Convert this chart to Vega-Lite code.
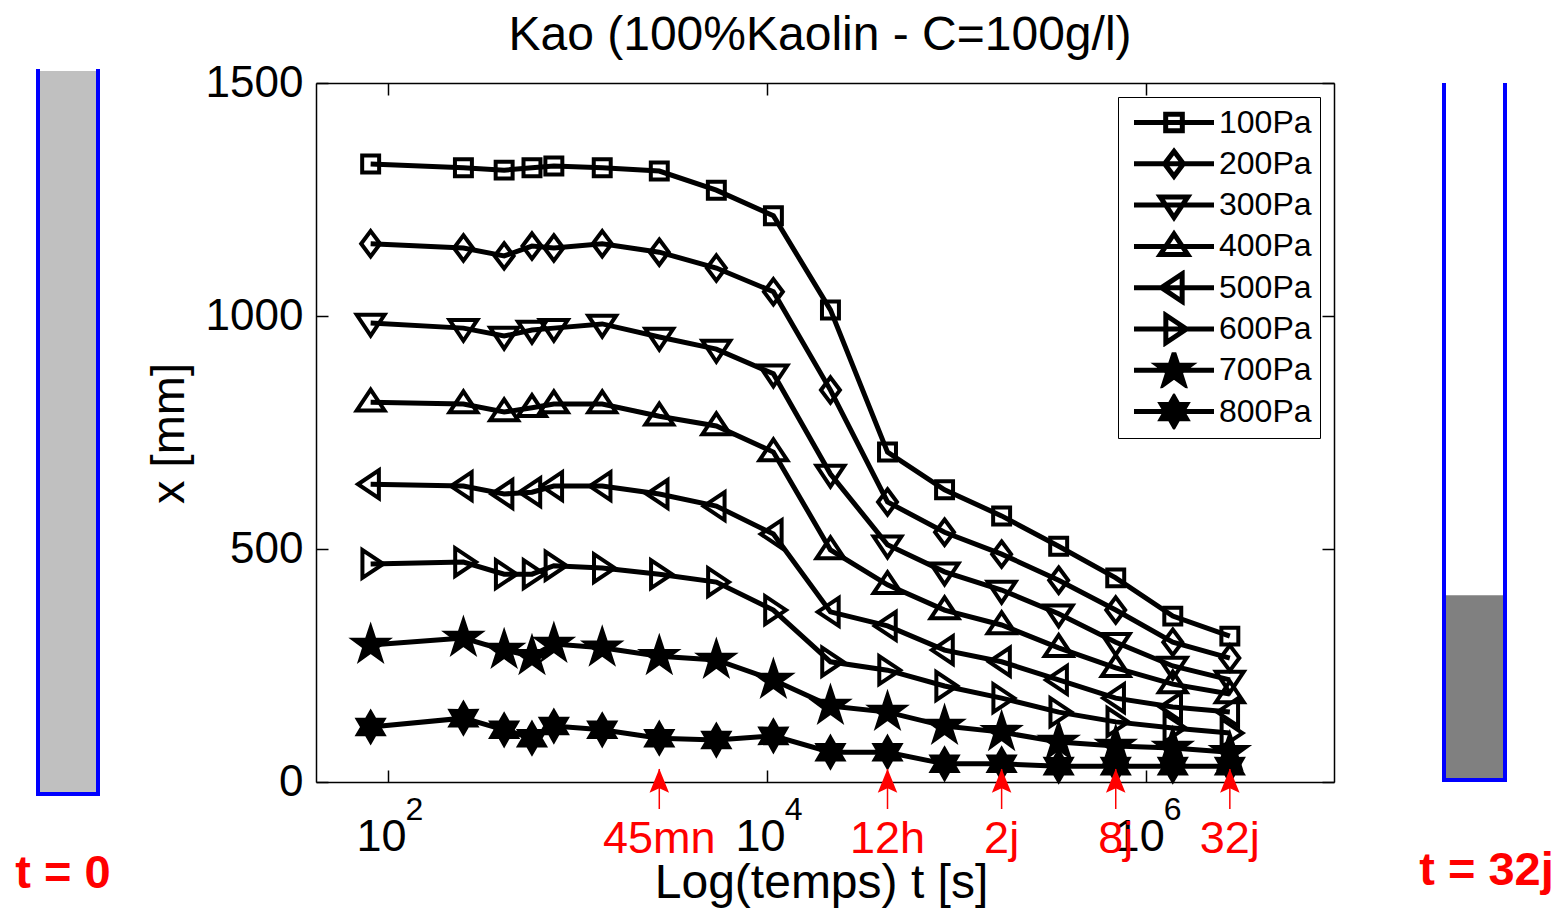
{
  "$schema": "https://vega.github.io/schema/vega-lite/v6.json",
  "background": "white",
  "padding": {"left": 15, "top": 12, "right": 5, "bottom": 5},
  "config": {"view": {"stroke": null}, "font": "Liberation Sans"},
  "spacing": 110,
  "bounds": "flush",
  "center": true,
  "hconcat": [
    {
      "width": 168,
      "height": 723,
      "data": {"values": [{"tube": "t = 0", "level": 1}]},
      "layer": [
        {"mark": {"type": "rect", "color": "#c0c0c0"},
         "encoding": {
           "x": {"datum": 0, "type": "quantitative", "scale": {"domain": [0, 2.8]}, "axis": null},
           "x2": {"datum": 1},
           "y": {"field": "level", "type": "quantitative", "scale": {"domain": [0, 1]}, "axis": null},
           "y2": {"datum": 0}}},
        {"mark": {"type": "rule", "color": "#0000ff", "strokeWidth": 4, "strokeCap": "square"},
         "encoding": {"x": {"datum": 0, "type": "quantitative", "axis": null}, "y": {"datum": 0, "type": "quantitative", "axis": null}, "y2": {"datum": 1}}},
        {"mark": {"type": "rule", "color": "#0000ff", "strokeWidth": 4, "strokeCap": "square"},
         "encoding": {"x": {"datum": 1, "type": "quantitative", "axis": null}, "y": {"datum": 0, "type": "quantitative", "axis": null}, "y2": {"datum": 1}}},
        {"mark": {"type": "rule", "color": "#0000ff", "strokeWidth": 4, "strokeCap": "square"},
         "encoding": {"x": {"datum": 0, "type": "quantitative", "axis": null}, "x2": {"datum": 1}, "y": {"datum": 0, "type": "quantitative", "axis": null}}},
        {"mark": {"type": "text", "color": "#ff0000", "font": "Liberation Sans", "fontSize": 47, "fontWeight": "bold", "baseline": "alphabetic", "align": "center", "dy": 94, "dx": -5},
         "encoding": {"x": {"datum": 0.5, "type": "quantitative", "axis": null}, "y": {"datum": 0, "type": "quantitative", "axis": null}, "text": {"field": "tube", "type": "nominal"}}}
      ]
    },
    {
      "width": 1018,
      "height": 699,
      "title": {"text": "Kao (100%Kaolin - C=100g/l)", "font": "Liberation Sans", "fontSize": 48, "fontWeight": "normal", "color": "black", "baseline": "alphabetic", "offset": -37, "anchor": "middle", "frame": "group", "dx": -5},
      "data": {"values": [
        {"series":"100Pa","t":81,"x_mm":1326},{"series":"100Pa","t":250,"x_mm":1318},{"series":"100Pa","t":410,"x_mm":1313},{"series":"100Pa","t":575,"x_mm":1318},{"series":"100Pa","t":750,"x_mm":1322},{"series":"100Pa","t":1350,"x_mm":1318},{"series":"100Pa","t":2700,"x_mm":1311},{"series":"100Pa","t":5400,"x_mm":1270},{"series":"100Pa","t":10800,"x_mm":1215},{"series":"100Pa","t":21600,"x_mm":1013},{"series":"100Pa","t":43200,"x_mm":708},{"series":"100Pa","t":86400,"x_mm":627},{"series":"100Pa","t":172800,"x_mm":571},{"series":"100Pa","t":345600,"x_mm":506},{"series":"100Pa","t":691200,"x_mm":438},{"series":"100Pa","t":1382400,"x_mm":356},{"series":"100Pa","t":2764800,"x_mm":313},
        {"series":"200Pa","t":81,"x_mm":1155},{"series":"200Pa","t":250,"x_mm":1146},{"series":"200Pa","t":410,"x_mm":1129},{"series":"200Pa","t":575,"x_mm":1150},{"series":"200Pa","t":750,"x_mm":1146},{"series":"200Pa","t":1350,"x_mm":1155},{"series":"200Pa","t":2700,"x_mm":1137},{"series":"200Pa","t":5400,"x_mm":1103},{"series":"200Pa","t":10800,"x_mm":1052},{"series":"200Pa","t":21600,"x_mm":841},{"series":"200Pa","t":43200,"x_mm":601},{"series":"200Pa","t":86400,"x_mm":536},{"series":"200Pa","t":172800,"x_mm":489},{"series":"200Pa","t":345600,"x_mm":433},{"series":"200Pa","t":691200,"x_mm":369},{"series":"200Pa","t":1382400,"x_mm":300},{"series":"200Pa","t":2764800,"x_mm":266},
        {"series":"300Pa","t":81,"x_mm":985},{"series":"300Pa","t":250,"x_mm":974},{"series":"300Pa","t":410,"x_mm":957},{"series":"300Pa","t":575,"x_mm":970},{"series":"300Pa","t":750,"x_mm":974},{"series":"300Pa","t":1350,"x_mm":983},{"series":"300Pa","t":2700,"x_mm":955},{"series":"300Pa","t":5400,"x_mm":929},{"series":"300Pa","t":10800,"x_mm":876},{"series":"300Pa","t":21600,"x_mm":661},{"series":"300Pa","t":43200,"x_mm":509},{"series":"300Pa","t":86400,"x_mm":451},{"series":"300Pa","t":172800,"x_mm":412},{"series":"300Pa","t":345600,"x_mm":361},{"series":"300Pa","t":691200,"x_mm":300},{"series":"300Pa","t":1382400,"x_mm":249},{"series":"300Pa","t":2764800,"x_mm":219},
        {"series":"400Pa","t":81,"x_mm":815},{"series":"400Pa","t":250,"x_mm":811},{"series":"400Pa","t":410,"x_mm":794},{"series":"400Pa","t":575,"x_mm":803},{"series":"400Pa","t":750,"x_mm":811},{"series":"400Pa","t":1350,"x_mm":811},{"series":"400Pa","t":2700,"x_mm":785},{"series":"400Pa","t":5400,"x_mm":764},{"series":"400Pa","t":10800,"x_mm":708},{"series":"400Pa","t":21600,"x_mm":498},{"series":"400Pa","t":43200,"x_mm":423},{"series":"400Pa","t":86400,"x_mm":369},{"series":"400Pa","t":172800,"x_mm":337},{"series":"400Pa","t":345600,"x_mm":288},{"series":"400Pa","t":691200,"x_mm":245},{"series":"400Pa","t":1382400,"x_mm":210},{"series":"400Pa","t":2764800,"x_mm":189},
        {"series":"500Pa","t":81,"x_mm":639},{"series":"500Pa","t":250,"x_mm":635},{"series":"500Pa","t":410,"x_mm":618},{"series":"500Pa","t":575,"x_mm":622},{"series":"500Pa","t":750,"x_mm":635},{"series":"500Pa","t":1350,"x_mm":635},{"series":"500Pa","t":2700,"x_mm":618},{"series":"500Pa","t":5400,"x_mm":592},{"series":"500Pa","t":10800,"x_mm":532},{"series":"500Pa","t":21600,"x_mm":365},{"series":"500Pa","t":43200,"x_mm":335},{"series":"500Pa","t":86400,"x_mm":283},{"series":"500Pa","t":172800,"x_mm":258},{"series":"500Pa","t":345600,"x_mm":219},{"series":"500Pa","t":691200,"x_mm":180},{"series":"500Pa","t":1382400,"x_mm":161},{"series":"500Pa","t":2764800,"x_mm":150},
        {"series":"600Pa","t":81,"x_mm":468},{"series":"600Pa","t":250,"x_mm":472},{"series":"600Pa","t":410,"x_mm":446},{"series":"600Pa","t":575,"x_mm":446},{"series":"600Pa","t":750,"x_mm":464},{"series":"600Pa","t":1350,"x_mm":459},{"series":"600Pa","t":2700,"x_mm":446},{"series":"600Pa","t":5400,"x_mm":429},{"series":"600Pa","t":10800,"x_mm":369},{"series":"600Pa","t":21600,"x_mm":258},{"series":"600Pa","t":43200,"x_mm":240},{"series":"600Pa","t":86400,"x_mm":206},{"series":"600Pa","t":172800,"x_mm":180},{"series":"600Pa","t":345600,"x_mm":150},{"series":"600Pa","t":691200,"x_mm":129},{"series":"600Pa","t":1382400,"x_mm":116},{"series":"600Pa","t":2764800,"x_mm":105},
        {"series":"700Pa","t":81,"x_mm":294},{"series":"700Pa","t":250,"x_mm":309},{"series":"700Pa","t":410,"x_mm":283},{"series":"700Pa","t":575,"x_mm":270},{"series":"700Pa","t":750,"x_mm":296},{"series":"700Pa","t":1350,"x_mm":288},{"series":"700Pa","t":2700,"x_mm":270},{"series":"700Pa","t":5400,"x_mm":262},{"series":"700Pa","t":10800,"x_mm":219},{"series":"700Pa","t":21600,"x_mm":163},{"series":"700Pa","t":43200,"x_mm":150},{"series":"700Pa","t":86400,"x_mm":120},{"series":"700Pa","t":172800,"x_mm":107},{"series":"700Pa","t":345600,"x_mm":86},{"series":"700Pa","t":691200,"x_mm":77},{"series":"700Pa","t":1382400,"x_mm":73},{"series":"700Pa","t":2764800,"x_mm":64},
        {"series":"800Pa","t":81,"x_mm":118},{"series":"800Pa","t":250,"x_mm":137},{"series":"800Pa","t":410,"x_mm":112},{"series":"800Pa","t":575,"x_mm":94},{"series":"800Pa","t":750,"x_mm":120},{"series":"800Pa","t":1350,"x_mm":112},{"series":"800Pa","t":2700,"x_mm":94},{"series":"800Pa","t":5400,"x_mm":90},{"series":"800Pa","t":10800,"x_mm":99},{"series":"800Pa","t":21600,"x_mm":64},{"series":"800Pa","t":43200,"x_mm":64},{"series":"800Pa","t":86400,"x_mm":39},{"series":"800Pa","t":172800,"x_mm":39},{"series":"800Pa","t":345600,"x_mm":34},{"series":"800Pa","t":691200,"x_mm":34},{"series":"800Pa","t":1382400,"x_mm":34},{"series":"800Pa","t":2764800,"x_mm":34}
      ]},
      "layer": [
        {
          "mark": {"type": "line", "color": "black", "strokeWidth": 5},
          "encoding": {
            "x": {"field": "t", "type": "quantitative", "scale": {"type": "log", "domain": [41.7, 9800000], "nice": false},
              "axis": {"orient": "bottom", "values": [100, 10000, 1000000], "labelExpr": "'10'", "title": "Log(temps) t [s]", "grid": false,
                "tickSize": -12, "tickColor": "black", "tickWidth": 1.5, "domainColor": "black", "domainWidth": 1.5,
                "labelFont": "Liberation Sans", "labelFontSize": 45, "labelColor": "black", "labelPadding": 80, "labelBaseline": "alphabetic", "labelOffset": -7, "labelFlush": false, "labelOverlap": false,
                "titleFont": "Liberation Sans", "titleFontSize": 48, "titleFontWeight": "normal", "titleColor": "black", "titleBaseline": "alphabetic", "titleAlign": "center", "titleX": 505, "titleY": 115}},
            "y": {"field": "x_mm", "type": "quantitative", "scale": {"domain": [0, 1500], "nice": false, "zero": false},
              "axis": {"orient": "left", "values": [0, 500, 1000, 1500], "format": "d", "title": "x [mm]", "grid": false,
                "tickSize": -12, "tickColor": "black", "tickWidth": 1.5, "domainColor": "black", "domainWidth": 1.5,
                "labelFont": "Liberation Sans", "labelFontSize": 44, "labelColor": "black", "labelPadding": 25, "labelAlign": "right", "labelBaseline": "middle", "labelFlush": false, "labelOverlap": false,
                "titleFont": "Liberation Sans", "titleFontSize": 47, "titleFontWeight": "normal", "titleColor": "black", "titleBaseline": "alphabetic", "titleAlign": "center", "titleAngle": 270, "titleX": -133, "titleY": 350}},
            "detail": {"field": "series", "type": "nominal"}
          }
        },
        {
          "mark": {"type": "point", "size": 640, "strokeWidth": 4, "stroke": "black", "opacity": 1},
          "encoding": {
            "x": {"field": "t", "type": "quantitative", "scale": {"type": "log", "domain": [41.7, 9800000], "nice": false},
              "axis": {"orient": "top", "values": [100, 10000, 1000000], "labels": false, "title": null, "grid": false, "tickSize": -12, "tickColor": "black", "tickWidth": 1.5, "domainColor": "black", "domainWidth": 1.5}},
            "y": {"field": "x_mm", "type": "quantitative", "scale": {"domain": [0, 1500], "nice": false, "zero": false},
              "axis": {"orient": "right", "values": [0, 500, 1000, 1500], "labels": false, "title": null, "grid": false, "tickSize": -12, "tickColor": "black", "tickWidth": 1.5, "domainColor": "black", "domainWidth": 1.5}},
            "shape": {"field": "series", "type": "nominal", "legend": null,
              "scale": {"domain": ["100Pa","200Pa","300Pa","400Pa","500Pa","600Pa","700Pa","800Pa"],
                "range": ["M-0.67,-0.67H0.67V0.67H-0.67Z", "M0,-1L0.75,0L0,1L-0.75,0Z", "M-1.1,-0.65H1.1L0,1Z", "M-1.1,0.65H1.1L0,-1Z", "M-1,0L0.65,-1.1V1.1Z", "M1,0L-0.65,-1.1V1.1Z",
                  "M0,-1.35L0.306,-0.421L1.284,-0.417L0.495,0.161L0.794,1.092L0,0.52L-0.794,1.092L-0.495,0.161L-1.284,-0.417L-0.306,-0.421Z",
                  "M0,-1.15L0.33,-0.572L0.996,-0.575L0.66,0L0.996,0.575L0.33,0.572L0,1.15L-0.33,0.572L-0.996,0.575L-0.66,0L-0.996,-0.575L-0.33,-0.572Z"]}},
            "fill": {"condition": {"test": "datum.series == '700Pa' || datum.series == '800Pa'", "value": "black"}, "value": "transparent"}
          }
        },
        {
          "data": {"values": [{"t": 2700, "label": "45mn"}, {"t": 43200, "label": "12h"}, {"t": 172800, "label": "2j"}, {"t": 691200, "label": "8j"}, {"t": 2764800, "label": "32j"}]},
          "mark": {"type": "rule", "color": "#ff0000", "strokeWidth": 1.5},
          "encoding": {
            "x": {"field": "t", "type": "quantitative", "scale": {"type": "log", "domain": [41.7, 9800000], "nice": false},
              "axis": {"orient": "bottom", "values": [100, 10000, 1000000], "labelExpr": "round(log(datum.value)/LN10)", "title": null, "grid": false, "ticks": false, "domain": false,
                "labelFont": "Liberation Sans", "labelFontSize": 32, "labelColor": "black", "labelPadding": 37, "labelBaseline": "alphabetic", "labelOffset": 26, "labelFlush": false, "labelOverlap": false}},
            "y": {"datum": -58, "type": "quantitative", "axis": null},
            "y2": {"datum": 28}
          }
        },
        {
          "data": {"values": [{"t": 2700, "label": "45mn"}, {"t": 43200, "label": "12h"}, {"t": 172800, "label": "2j"}, {"t": 691200, "label": "8j"}, {"t": 2764800, "label": "32j"}]},
          "mark": {"type": "point", "shape": "M0,-1L0.65,0.6L0,0.3L-0.65,0.6Z", "size": 900, "filled": true, "color": "#ff0000", "opacity": 1, "strokeWidth": 0},
          "encoding": {
            "x": {"field": "t", "type": "quantitative", "scale": {"type": "log", "domain": [41.7, 9800000], "nice": false}, "axis": null},
            "y": {"datum": -4, "type": "quantitative", "axis": null}
          }
        },
        {
          "data": {"values": [{"t": 2700, "label": "45mn"}, {"t": 43200, "label": "12h"}, {"t": 172800, "label": "2j"}, {"t": 691200, "label": "8j"}, {"t": 2764800, "label": "32j"}]},
          "mark": {"type": "text", "color": "#ff0000", "font": "Liberation Sans", "fontSize": 45, "baseline": "alphabetic", "align": "center", "dy": 71},
          "encoding": {
            "x": {"field": "t", "type": "quantitative", "scale": {"type": "log", "domain": [41.7, 9800000], "nice": false}, "axis": null},
            "y": {"datum": 0, "type": "quantitative", "axis": null},
            "text": {"field": "label", "type": "nominal"}
          }
        },
        {
          "transform": [{"filter": "datum.t < 0"}],
          "mark": {"type": "point", "size": 1024, "strokeWidth": 5, "stroke": "black", "opacity": 1},
          "encoding": {
            "shape": {"field": "series", "type": "nominal",
              "scale": {"domain": ["100Pa","200Pa","300Pa","400Pa","500Pa","600Pa","700Pa","800Pa"],
                "range": ["M-2.5,0H2.5M-0.52,-0.52H0.52V0.52H-0.52Z", "M-2.5,0H2.5M0,-0.78L0.59,0L0,0.78L-0.59,0Z", "M-2.5,0H2.5M-0.86,-0.51H0.86L0,0.78Z", "M-2.5,0H2.5M-0.86,0.51H0.86L0,-0.78Z", "M-2.5,0H2.5M-0.78,0L0.51,-0.86V0.86Z", "M-2.5,0H2.5M0.78,0L-0.51,-0.86V0.86Z",
                  "M-2.5,0H2.5M0,-1.05L0.239,-0.328L1,-0.325L0.386,0.126L0.619,0.852L0,0.406L-0.619,0.852L-0.386,0.126L-1,-0.325L-0.239,-0.328Z",
                  "M-2.5,0H2.5M0,-0.9L0.257,-0.446L0.777,-0.449L0.515,0L0.777,0.449L0.257,0.446L0,0.9L-0.257,0.446L-0.777,0.449L-0.515,0L-0.777,-0.449L-0.257,-0.446Z"]},
              "legend": {"title": null, "orient": "top-right", "offset": 14, "padding": 7.5, "strokeColor": "black", "fillColor": "white", "cornerRadius": 0, "labelFont": "Liberation Sans", "labelFontSize": 32, "labelColor": "black", "labelOffset": 26.5, "symbolOffset": 30, "rowPadding": 5.3, "clipHeight": 36, "symbolStrokeWidth": 5, "symbolStrokeColor": "black", "symbolSize": 1024, "symbolOpacity": 1, "labelLimit": 300,
                "encode": {"symbols": {"update": {"stroke": {"value": "black"}, "strokeWidth": {"value": 5}, "opacity": {"value": 1}}}}}},
            "fill": {"field": "series", "type": "nominal",
              "scale": {"domain": ["100Pa","200Pa","300Pa","400Pa","500Pa","600Pa","700Pa","800Pa"], "range": ["transparent","transparent","transparent","transparent","transparent","transparent","black","black"]},
              "legend": {"title": null, "orient": "top-right", "offset": 14, "padding": 7.5, "strokeColor": "black", "fillColor": "white", "cornerRadius": 0, "labelFont": "Liberation Sans", "labelFontSize": 32, "labelColor": "black", "labelOffset": 26.5, "symbolOffset": 30, "rowPadding": 5.3, "clipHeight": 36, "symbolStrokeWidth": 5, "symbolStrokeColor": "black", "symbolSize": 1024, "symbolOpacity": 1, "labelLimit": 300,
                "encode": {"symbols": {"update": {"stroke": {"value": "black"}, "strokeWidth": {"value": 5}, "opacity": {"value": 1}}}}}}
          }
        }
      ],
      "resolve": {"axis": {"x": "independent", "y": "independent"}, "scale": {"shape": "independent", "fill": "independent"}}
    },
    {
      "width": 61,
      "height": 695,
      "data": {"values": [{"tube": "t = 32j", "level": 0.266}]},
      "layer": [
        {"mark": {"type": "rect", "color": "#808080"},
         "encoding": {
           "x": {"datum": 0, "type": "quantitative", "scale": {"domain": [0, 1]}, "axis": null},
           "x2": {"datum": 1},
           "y": {"field": "level", "type": "quantitative", "scale": {"domain": [0, 1]}, "axis": null},
           "y2": {"datum": 0}}},
        {"mark": {"type": "rule", "color": "#0000ff", "strokeWidth": 4, "strokeCap": "square"},
         "encoding": {"x": {"datum": 0, "type": "quantitative", "axis": null}, "y": {"datum": 0, "type": "quantitative", "axis": null}, "y2": {"datum": 1}}},
        {"mark": {"type": "rule", "color": "#0000ff", "strokeWidth": 4, "strokeCap": "square"},
         "encoding": {"x": {"datum": 1, "type": "quantitative", "axis": null}, "y": {"datum": 0, "type": "quantitative", "axis": null}, "y2": {"datum": 1}}},
        {"mark": {"type": "rule", "color": "#0000ff", "strokeWidth": 4, "strokeCap": "square"},
         "encoding": {"x": {"datum": 0, "type": "quantitative", "axis": null}, "x2": {"datum": 1}, "y": {"datum": 0, "type": "quantitative", "axis": null}}},
        {"mark": {"type": "text", "color": "#ff0000", "font": "Liberation Sans", "fontSize": 47, "fontWeight": "bold", "baseline": "alphabetic", "align": "center", "dy": 105, "dx": 12},
         "encoding": {"x": {"datum": 0.5, "type": "quantitative", "axis": null}, "y": {"datum": 0, "type": "quantitative", "axis": null}, "text": {"field": "tube", "type": "nominal"}}}
      ]
    }
  ]
}
